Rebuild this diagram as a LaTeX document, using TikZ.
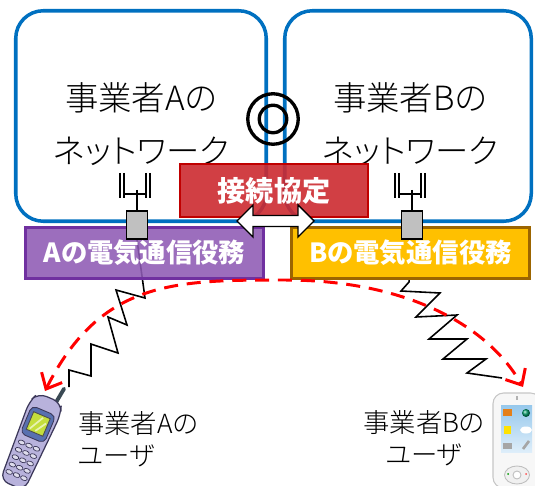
\documentclass[tikz,border=0pt]{standalone}
\usepackage{fontspec}
\setmainfont{Noto Sans CJK JP}[RawFeature=+palt]
\newfontfamily\thinfont{Noto Sans CJK JP Light}[RawFeature=+palt]
\usetikzlibrary{arrows.meta,backgrounds}

\definecolor{netblue}{RGB}{0,112,192}
\definecolor{svcpurple}{RGB}{142,90,180}
\definecolor{svcpurpleline}{RGB}{112,48,160}
\definecolor{svcyellow}{RGB}{255,192,0}
\definecolor{svcyellowline}{RGB}{156,101,0}
\definecolor{pactred}{RGB}{204,42,48}
\definecolor{pactline}{RGB}{192,0,0}
\definecolor{antgray}{RGB}{192,192,192}
\definecolor{phonelav}{RGB}{184,178,220}
\definecolor{phoneline}{RGB}{60,56,90}
\definecolor{bezelblue}{RGB}{88,112,176}
\definecolor{screengreen}{RGB}{196,222,60}
\definecolor{keygray}{RGB}{222,220,236}
\definecolor{antdark}{RGB}{58,74,84}
\definecolor{skyblue}{RGB}{150,200,236}
\definecolor{skylight}{RGB}{222,238,250}

\tikzset{
  netbox/.style={draw=netblue, line width=2pt, rounded corners=0.55cm, minimum height=4.21cm},
  nettext/.style={align=center, font=\thinfont\fontsize{19}{30}\selectfont},
  svcbox/.style={line width=1.7pt, minimum width=4.76cm, minimum height=1.02cm, text=white,
    font=\fontsize{15}{18}\selectfont\bfseries},
  antbox/.style={draw, fill=antgray, line width=0.8pt, minimum width=0.42cm, minimum height=0.56cm, inner sep=0pt},
  ring/.style={circle, draw, line width=1.9pt, inner sep=0pt},
  wave/.style={line width=0.9pt},
  call/.style={red, line width=1.7pt, dash pattern=on 8pt off 5pt,
    {Straight Barb[length=2.6mm,width=4.6mm]}-{Straight Barb[length=2.6mm,width=4.6mm]}},
  user/.style={font=\thinfont\fontsize{15}{18}\selectfont}
}

\begin{document}
\begin{tikzpicture}[x=0.2mm, y=-0.2mm]
\useasboundingbox (0,0) rectangle (535,486);
\node[netbox, minimum width=5.01cm] (netA) at (141,116) {};
\node[netbox, minimum width=4.93cm] (netB) at (408,116) {};
\node[nettext] (netAtxt) at (141,124) {事業者Aの\\ネットワーク};
\node[nettext] (netBtxt) at (410,124) {事業者Bの\\ネットワーク};
\node[ring, minimum size=1.01cm] (link) at (273,119) {};
\node[ring, minimum size=0.55cm] (linkin) at (link) {};

\node[svcbox, fill=svcpurple, fill opacity=0.88, text opacity=1, draw=svcpurpleline] (svcA) at (144.5,253) {Aの電気通信役務};
\node[svcbox, fill=svcyellow, draw=svcyellowline] (svcB) at (410.5,253) {Bの電気通信役務};

\foreach \n/\x in {A/137, B/412}
{
	\draw[line width=1.1pt] (\x-17,173) -- (\x-17,198) (\x-13,173) -- (\x-13,198)
		(\x+9,173) -- (\x+9,198) (\x+13,173) -- (\x+13,198);
	\draw[line width=0.6pt] (\x-13,194) -- (\x+9,194) (\x,190) -- (\x,211);
	\node[antbox] (ant\n) at (\x,225) {};
}

\begin{pgfonlayer}{background}
\draw[wave] (antA.south) -- (145,298) -- (116,290) -- (127,325) -- (108,317) -- (118,353)
	-- (91,344) -- (91,376) -- (69,370) -- (69,387) coordinate (waveA);
\draw[wave] (antB.south) -- (409,282) -- (401,291) -- (440,293) -- (416,317) -- (457,315)
	-- (429,339) -- (467,339) -- (443,359) -- (486,359) -- (467,373) -- (502,378) coordinate (waveB);
\end{pgfonlayer}

\node[draw=pactline, fill=pactred, fill opacity=0.9, text opacity=1, line width=1.1pt,
	minimum width=3.76cm, minimum height=1.06cm, text=white,
	font=\fontsize{16}{18}\selectfont\bfseries] (pact) at (274,190.5) {接続協定};
\coordinate (xchg) at (275.5,221);
\draw[fill=white, line width=0.8pt] (xchg) ++(-38.5,0) -- ++(16,-16) -- ++(0,10.5) -- ++(45,0)
	-- ++(0,-10.5) -- ++(16,16) -- ++(-16,16) -- ++(0,-10.5) -- ++(-45,0) -- ++(0,10.5) -- cycle;

\coordinate (callA) at (45,391);
\coordinate (callB) at (523,387);
\draw[call] (callA) .. controls (101,280) and (175,280) .. (285,280)
	.. controls (395,280) and (483,318) .. (callB);

\begin{scope}[shift={(31,441)}, rotate=-23]
\draw[antdark, line width=2.2pt, line cap=round] (8,-46) -- (10,-61);
\draw[fill=phonelav, draw=phoneline, line width=0.7pt, rounded corners=5pt]
	(-13,48) -- (-17,-36) -- (-12,-47) -- (13,-47) -- (17,-36) -- (13,48) -- cycle;
\draw[fill=bezelblue, draw=phoneline, line width=0.5pt, rounded corners=3pt] (-13,-33) rectangle (13,-3);
\draw[fill=screengreen, draw=black!70, line width=0.5pt] (-9,-28) rectangle (9,-9);
\draw[white!60!screengreen, line width=1pt] (-6,-11) -- (2,-26) (0,-11) -- (7,-22);
\foreach \r in {0,...,4}
	\foreach \c in {-8,0,8}
		\draw[fill=keygray, draw=phoneline, line width=0.4pt] (\c,5+\r*8) ellipse (3.5 and 2.2);
\end{scope}

\begin{scope}[shift={(517,440)}]
\draw[fill=gray!6, draw=gray!45, line width=0.6pt, rounded corners=6pt] (-24,-47) rectangle (24,48);
\draw[gray!60, line width=0.8pt] (0,-44) -- (0,-40);
\shade[top color=skyblue, bottom color=skylight] (-16,-35) rectangle (15,12);
\fill[orange!60!brown] (-14,-31) rectangle (-5,-24);
\shade[ball color=green!60!blue] (9,-27) circle (4);
\fill[yellow!85!orange] (-13,-14) rectangle (-6,-6);
\fill[white] (9,-10) ellipse (6 and 3.5);
\fill[gray!70] (-14,3) rectangle (-5,9);
\draw[gray!70, line width=1.5pt] (6,9) -- (12,1);
\draw[fill=gray!12, draw=gray!50, line width=0.5pt] (0,35) ellipse (12.5 and 9);
\draw[fill=white, draw=gray!50, line width=0.5pt] (0,35) circle (4);
\fill[green!60!black] (-9,34) circle (1);
\fill[red!70] (9,34) circle (1);
\end{scope}

\node[user, align=left, anchor=west] (userA) at (72,439) {事業者Aの\\ユーザ};
\node[user, align=center] (userB) at (424,438) {事業者Bの\\ユーザ};
\end{tikzpicture}
\end{document}
